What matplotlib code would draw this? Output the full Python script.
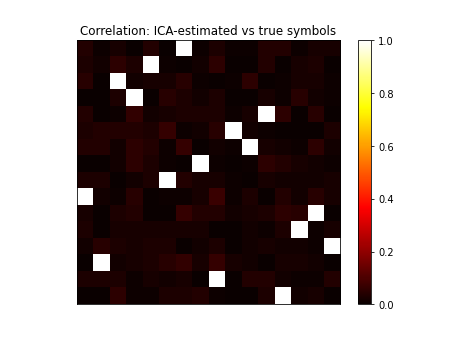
import numpy as np
import matplotlib
matplotlib.use('Agg')
import matplotlib.pyplot as plt

# |correlation| between ICA-estimated sources (rows) and true symbols (cols)
row0 = [0.036, 0.007, 0.022, 0.000, 0.036, 0.000, 1.0, 0.007, 0.029, 0.007, 0.007, 0.036, 0.036, 0.007, 0.022, 0.022]
row1 = [0.029, 0.014, 0.051, 0.029, 1.0, 0.007, 0.000, 0.014, 0.051, 0.002, 0.002, 0.036, 0.000, 0.022, 0.029, 0.002]
row2 = [0.044, 0.002, 1.0, 0.014, 0.022, 0.022, 0.044, 0.007, 0.002, 0.007, 0.051, 0.000, 0.007, 0.022, 0.022, 0.007]
row3 = [0.002, 0.002, 0.029, 1.0, 0.000, 0.044, 0.029, 0.014, 0.029, 0.002, 0.002, 0.022, 0.007, 0.044, 0.014, 0.007]
row4 = [0.036, 0.002, 0.007, 0.059, 0.014, 0.022, 0.029, 0.029, 0.029, 0.007, 0.022, 1.0, 0.051, 0.002, 0.044, 0.002]
row5 = [0.029, 0.036, 0.036, 0.036, 0.029, 0.066, 0.007, 0.014, 0.044, 1.0, 0.014, 0.007, 0.000, 0.002, 0.000, 0.029]
row6 = [0.036, 0.036, 0.014, 0.051, 0.036, 0.007, 0.066, 0.000, 0.014, 0.007, 1.0, 0.022, 0.014, 0.007, 0.051, 0.014]
row7 = [0.002, 0.002, 0.014, 0.051, 0.029, 0.007, 0.002, 1.0, 0.007, 0.002, 0.007, 0.051, 0.036, 0.022, 0.014, 0.007]
row8 = [0.029, 0.029, 0.002, 0.014, 0.029, 1.0, 0.036, 0.022, 0.022, 0.007, 0.002, 0.022, 0.014, 0.014, 0.014, 0.022]
row9 = [1.0, 0.014, 0.007, 0.044, 0.002, 0.007, 0.007, 0.022, 0.074, 0.007, 0.029, 0.000, 0.036, 0.014, 0.044, 0.022]
row10 = [0.022, 0.002, 0.029, 0.036, 0.000, 0.002, 0.066, 0.036, 0.036, 0.014, 0.022, 0.029, 0.051, 0.044, 1.0, 0.002]
row11 = [0.029, 0.002, 0.022, 0.022, 0.022, 0.022, 0.022, 0.022, 0.000, 0.002, 0.014, 0.007, 0.029, 1.0, 0.007, 0.022]
row12 = [0.014, 0.044, 0.029, 0.022, 0.029, 0.029, 0.002, 0.014, 0.029, 0.002, 0.014, 0.022, 0.014, 0.014, 0.007, 1.0]
row13 = [0.002, 1.0, 0.014, 0.022, 0.029, 0.044, 0.059, 0.022, 0.066, 0.022, 0.014, 0.002, 0.022, 0.022, 0.014, 0.000]
row14 = [0.029, 0.029, 0.029, 0.007, 0.022, 0.014, 0.022, 0.000, 1.0, 0.002, 0.036, 0.036, 0.014, 0.007, 0.007, 0.036]
row15 = [0.000, 0.000, 0.051, 0.007, 0.007, 0.029, 0.029, 0.036, 0.007, 0.002, 0.002, 0.029, 1.0, 0.014, 0.022, 0.002]

C = np.array([row0, row1, row2, row3, row4, row5, row6, row7,
              row8, row9, row10, row11, row12, row13, row14, row15])

plt.figure(figsize=(6.4, 4.8), dpi=457 / 6.4)
plt.imshow(C, cmap='hot', vmin=0, vmax=1)
plt.colorbar()
plt.title('Correlation: ICA-estimated vs true symbols')
plt.xticks([])
plt.yticks([])
plt.savefig('out.png', dpi=457 / 6.4)
